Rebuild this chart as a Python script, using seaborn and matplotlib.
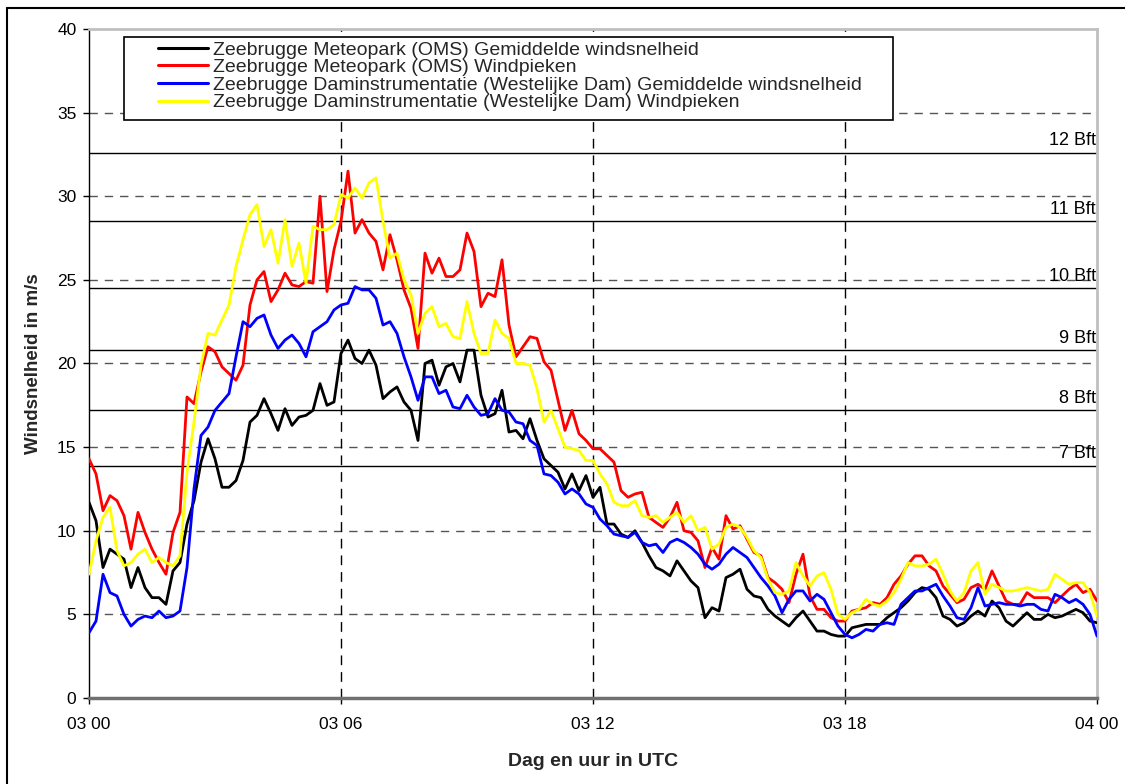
import numpy as np
import pandas as pd
import matplotlib
matplotlib.use("Agg")
import matplotlib.pyplot as plt
from matplotlib.lines import Line2D
from matplotlib.patches import Rectangle
import seaborn as sns

# ---------------- data (10-minute values, 03 00 .. 04 00 UTC) ----------------
series_names = [
    "Zeebrugge Meteopark (OMS) Gemiddelde windsnelheid",
    "Zeebrugge Meteopark (OMS) Windpieken",
    "Zeebrugge Daminstrumentatie (Westelijke Dam) Gemiddelde windsnelheid",
    "Zeebrugge Daminstrumentatie (Westelijke Dam) Windpieken",
]
series_colors = ["#000000", "#ff0000", "#0000ff", "#ffff00"]

meteo_mean = [
    11.7, 10.6, 7.8, 8.9, 8.6, 8.3, 6.6, 7.8, 6.6, 6.0,
    6.0, 5.6, 7.6, 8.1, 10.4, 11.8, 14.1, 15.5, 14.3, 12.6,
    12.6, 13.0, 14.2, 16.5, 16.9, 17.9, 17.0, 16.0, 17.3, 16.3,
    16.8, 16.9, 17.2, 18.8, 17.5, 17.7,
    20.6, 21.4, 20.3, 20.0, 20.8, 19.9, 17.9, 18.3, 18.6, 17.7,
    17.2, 15.4, 20.0, 20.2, 18.7, 19.8, 20.0, 18.9, 20.8, 20.8,
    18.1, 16.8, 17.0, 18.4, 15.9, 16.0, 15.5, 16.7, 15.4, 14.3,
    13.9, 13.5, 12.5, 13.4, 12.4, 13.3,
    12.0, 12.6, 10.4, 10.4, 9.8, 9.6, 10.0, 9.3, 8.5, 7.8,
    7.6, 7.3, 8.2, 7.6, 7.0, 6.6, 4.8, 5.4, 5.2, 7.2,
    7.4, 7.7, 6.5, 6.1, 6.0, 5.3, 4.9, 4.6, 4.3, 4.8,
    5.2, 4.6, 4.0, 4.0, 3.8, 3.7,
    3.7, 4.2, 4.3, 4.4, 4.4, 4.4, 4.8, 5.1, 5.4, 5.8,
    6.3, 6.6, 6.5, 6.0, 4.9, 4.7, 4.3, 4.5, 4.9, 5.2,
    4.9, 5.8, 5.4, 4.6, 4.3, 4.7, 5.1, 4.7, 4.7, 5.0,
    4.8, 4.9, 5.1, 5.3, 5.1, 4.6, 4.5,
]
meteo_gust = [
    14.3, 13.4, 11.2, 12.1, 11.8, 10.9, 8.9, 11.1, 9.9, 8.9,
    8.1, 7.4, 9.9, 11.1, 18.0, 17.6, 19.5, 21.0, 20.7, 19.8,
    19.4, 19.0, 19.9, 23.5, 25.0, 25.5, 23.7, 24.4, 25.4, 24.7,
    24.6, 24.9, 24.8, 30.0, 24.3, 26.8,
    28.5, 31.5, 27.8, 28.6, 27.8, 27.3, 25.6, 27.7, 26.2, 24.4,
    23.3, 20.9, 26.6, 25.4, 26.3, 25.2, 25.2, 25.6, 27.8, 26.7,
    23.4, 24.2, 24.0, 26.2, 22.3, 20.4, 21.0, 21.6, 21.5, 20.1,
    19.6, 17.8, 16.0, 17.2, 15.8, 15.4,
    14.9, 14.9, 14.5, 14.1, 12.4, 12.0, 12.2, 12.3, 10.8, 10.5,
    10.2, 10.8, 11.7, 10.0, 9.9, 9.4, 7.8, 9.0, 8.3, 10.9,
    10.1, 10.3, 9.5, 8.7, 8.5, 7.2, 6.9, 6.5, 5.7, 7.4,
    8.6, 6.1, 5.3, 5.3, 4.8, 4.6,
    4.6, 5.2, 5.3, 5.4, 5.7, 5.6, 6.0, 6.8, 7.3, 8.0,
    8.5, 8.5, 7.9, 7.6, 6.7, 6.2, 5.7, 5.9, 6.6, 6.8,
    6.5, 7.6, 6.7, 5.8, 5.6, 5.6, 6.3, 6.0, 6.0, 6.0,
    5.7, 6.1, 6.5, 6.8, 6.3, 6.5, 5.8,
]
dam_mean = [
    3.9, 4.6, 7.4, 6.3, 6.1, 5.0, 4.3, 4.7, 4.9, 4.8,
    5.2, 4.8, 4.9, 5.2, 7.8, 12.5, 15.7, 16.2, 17.2, 17.7,
    18.2, 20.4, 22.5, 22.2, 22.7, 22.9, 21.7, 20.9, 21.4, 21.7,
    21.2, 20.4, 21.9, 22.2, 22.5, 23.2,
    23.5, 23.6, 24.6, 24.4, 24.4, 23.9, 22.3, 22.5, 21.8, 20.4,
    19.2, 17.8, 19.2, 19.2, 18.2, 18.4, 17.4, 17.3, 18.1, 17.4,
    16.9, 17.0, 17.9, 17.2, 17.1, 16.5, 16.4, 15.4, 15.1, 13.4,
    13.3, 12.9, 12.2, 12.5, 12.2, 11.6,
    11.4, 10.7, 10.3, 9.8, 9.7, 9.6, 9.9, 9.3, 9.1, 9.2,
    8.7, 9.3, 9.5, 9.3, 9.0, 8.6, 8.0, 7.7, 8.0, 8.6,
    9.0, 8.7, 8.4, 7.8, 7.2, 6.7, 6.1, 5.1, 5.9, 6.4,
    6.4, 5.8, 6.2, 5.9, 5.1, 4.3,
    3.8, 3.6, 3.8, 4.1, 4.0, 4.4, 4.5, 4.4, 5.6, 6.0,
    6.4, 6.4, 6.6, 6.8, 6.1, 5.5, 4.8, 4.7, 5.4, 6.6,
    5.5, 5.6, 5.7, 5.6, 5.6, 5.5, 5.6, 5.6, 5.3, 5.2,
    6.2, 6.0, 5.7, 5.9, 5.6, 5.0, 3.7,
]
dam_gust = [
    7.4, 9.4, 10.8, 11.4, 8.8, 7.9, 8.1, 8.6, 8.9, 8.1,
    8.4, 8.1, 7.9, 8.5, 13.5, 16.5, 19.9, 21.8, 21.7, 22.6,
    23.5, 25.8, 27.4, 28.9, 29.5, 27.0, 28.0, 26.0, 28.6, 25.8,
    27.2, 24.8, 28.2, 28.0, 28.0, 28.3,
    30.1, 29.9, 30.5, 29.9, 30.8, 31.1, 28.5, 26.3, 26.6, 25.0,
    24.1, 21.8, 23.0, 23.4, 22.2, 22.4, 21.6, 21.5, 23.7, 21.8,
    20.6, 20.6, 22.6, 21.8, 21.5, 20.0, 20.0, 19.9, 18.5, 16.5,
    17.2, 16.1, 15.0, 14.9, 14.8, 14.2,
    14.2, 13.4, 12.8, 11.7, 11.5, 11.5, 11.8, 10.9, 10.8, 10.9,
    10.5, 10.8, 11.1, 10.5, 10.9, 10.0, 10.2, 8.9, 9.2, 10.2,
    10.4, 10.2, 9.6, 8.8, 8.4, 7.1, 6.3, 6.2, 6.4, 8.1,
    7.3, 6.7, 7.3, 7.5, 6.5, 5.0,
    4.7, 5.1, 5.3, 5.9, 5.6, 5.5, 5.8, 6.3, 7.1, 8.1,
    7.9, 7.9, 8.0, 8.3, 7.4, 6.4, 5.8, 6.3, 7.6, 8.1,
    6.2, 6.8, 6.6, 6.4, 6.4, 6.5, 6.6, 6.5, 6.4, 6.5,
    7.4, 7.1, 6.8, 6.9, 6.9, 6.3, 4.9,
]

bft_levels = [13.9, 17.2, 20.8, 24.5, 28.5, 32.6]
bft_labels = ["7 Bft", "8 Bft", "9 Bft", "10 Bft", "11 Bft", "12 Bft"]

x_tick_hours = [0, 6, 12, 18, 24]
x_tick_labels = ["03 00", "03 06", "03 12", "03 18", "04 00"]
y_ticks = [0, 5, 10, 15, 20, 25, 30, 35, 40]

# ---------------- build long table ----------------
frames = []
for name, vals in zip(series_names,
                      [meteo_mean, meteo_gust, dam_mean, dam_gust]):
    frames.append(pd.DataFrame({
        "uur": np.arange(len(vals)) / 6.0,
        "snelheid": vals,
        "reeks": name,
    }))
df = pd.concat(frames, ignore_index=True)

# ---------------- style ----------------
sns.set_theme(style="white")
plt.rcParams["font.family"] = ["Liberation Sans", "DejaVu Sans"]

W, H = 1125, 784
fig = plt.figure(figsize=(W / 100, H / 100), dpi=100)
ax = fig.add_axes([89 / W, 86 / H, 1008 / W, 669 / H])

# grid
ax.set_axisbelow(True)
for yv in y_ticks[1:-1]:
    ax.axhline(yv, color="#555555", lw=1.0, ls=(0, (6, 5)), zorder=0.5)
for xv in x_tick_hours[1:-1]:
    ax.axvline(xv, color="#000000", lw=1.0, ls=(0, (7, 5)), zorder=0.5)

# beaufort lines
for lv, lab in zip(bft_levels, bft_labels):
    ax.axhline(lv, color="#000000", lw=1.0, zorder=1)
    ax.text(23.97, lv + 0.2, lab, ha="right", va="bottom",
            fontsize=13, color="black", zorder=1)

sns.lineplot(data=df, x="uur", y="snelheid", hue="reeks",
             hue_order=series_names,
             palette=dict(zip(series_names, series_colors)),
             linewidth=2.0, estimator=None, sort=False,
             legend=False, ax=ax, zorder=3)

ax.set_xlim(0, 24)
ax.set_ylim(0, 40)
ax.set_xticks(x_tick_hours)
ax.set_xticklabels(x_tick_labels)
ax.set_yticks(y_ticks)
ax.tick_params(axis="both", direction="out", length=4, width=1,
               labelsize=12.5, colors="black", bottom=True, left=True)
ax.tick_params(axis="x", pad=10)
ax.tick_params(axis="y", pad=5)

for side in ["top", "right"]:
    ax.spines[side].set_color("#c0c0c0")
    ax.spines[side].set_linewidth(2)
ax.spines["left"].set_color("#000000")
ax.spines["left"].set_linewidth(1)
ax.spines["bottom"].set_color("#707070")
ax.spines["bottom"].set_linewidth(2.5)

ax.set_xlabel("Dag en uur in UTC", fontsize=14, fontweight="bold")
ax.set_ylabel("Windsnelheid in m/s", fontsize=13.5, fontweight="bold")
ax.xaxis.set_label_coords(0.5, -0.082)
ax.yaxis.set_label_coords(-0.047, 0.5)

# legend with square white box
box = Rectangle((0.0347, 0.864), 0.763, 0.124, transform=ax.transAxes,
                facecolor="white", edgecolor="black", lw=1.2, zorder=5)
ax.add_patch(box)
handles = [Line2D([], [], color=c, lw=2.2) for c in series_colors]
leg = ax.legend(handles, series_names, loc="upper left",
                bbox_to_anchor=(0.0685, 0.982), frameon=False,
                fontsize=14, handlelength=2.55, handletextpad=0.28,
                labelspacing=0.0, borderpad=0, borderaxespad=0)
leg.set_zorder(6)

# outer border of the (cropped) figure
fig.add_artist(Line2D([7 / W, 7 / W], [0, 1 - 8 / H], color="black",
                      lw=1.5, transform=fig.transFigure))
fig.add_artist(Line2D([7 / W, 1], [1 - 8 / H, 1 - 8 / H], color="black",
                      lw=1.5, transform=fig.transFigure))

fig.savefig("out.png", dpi=100)
